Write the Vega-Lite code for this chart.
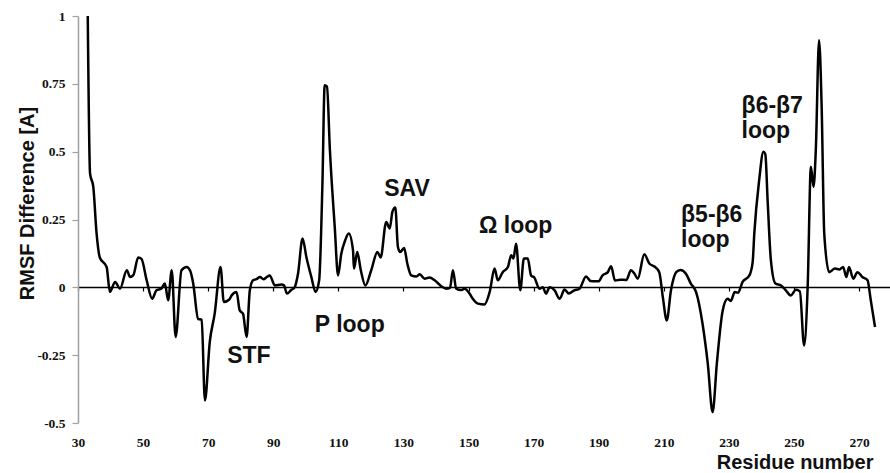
{
  "$schema": "https://vega.github.io/schema/vega-lite/v6.json",
  "width": 812,
  "height": 407,
  "autosize": {"type": "none"},
  "padding": {"left": 78, "top": 16, "right": 0, "bottom": 50},
  "background": "white",
  "config": {"view": {"stroke": null}},
  "layer": [
    {
      "data": {"values": [
        {"residue": 33, "rmsf": 1.0}, {"residue": 33.7, "rmsf": 0.42}, {"residue": 34.7, "rmsf": 0.37}, {"residue": 35.7, "rmsf": 0.2},
        {"residue": 36.7, "rmsf": 0.11}, {"residue": 38.8, "rmsf": 0.075}, {"residue": 39.8, "rmsf": -0.017}, {"residue": 41.4, "rmsf": 0.02},
        {"residue": 42.9, "rmsf": -0.005}, {"residue": 45, "rmsf": 0.063}, {"residue": 46, "rmsf": 0.038}, {"residue": 47, "rmsf": 0.045},
        {"residue": 48.5, "rmsf": 0.11}, {"residue": 49.5, "rmsf": 0.105}, {"residue": 51.1, "rmsf": 0.026}, {"residue": 52.8, "rmsf": -0.042},
        {"residue": 54.1, "rmsf": -0.011}, {"residue": 55.6, "rmsf": -0.005}, {"residue": 56.7, "rmsf": 0.014}, {"residue": 57.7, "rmsf": -0.048},
        {"residue": 58.8, "rmsf": 0.063}, {"residue": 60, "rmsf": -0.183}, {"residue": 61.8, "rmsf": 0.063}, {"residue": 63.4, "rmsf": 0.075},
        {"residue": 64.5, "rmsf": 0.06}, {"residue": 65.4, "rmsf": 0.014}, {"residue": 66.9, "rmsf": -0.116}, {"residue": 68, "rmsf": -0.12},
        {"residue": 69, "rmsf": -0.417}, {"residue": 70.5, "rmsf": -0.2}, {"residue": 72, "rmsf": -0.097}, {"residue": 73.8, "rmsf": 0.075},
        {"residue": 74.8, "rmsf": -0.054}, {"residue": 76.5, "rmsf": -0.045}, {"residue": 77.2, "rmsf": -0.03}, {"residue": 78.7, "rmsf": -0.017},
        {"residue": 79.7, "rmsf": -0.085}, {"residue": 80.7, "rmsf": -0.097}, {"residue": 81.8, "rmsf": -0.183}, {"residue": 82.8, "rmsf": -0.011},
        {"residue": 83.8, "rmsf": 0.026}, {"residue": 84.8, "rmsf": 0.03}, {"residue": 85.9, "rmsf": 0.038}, {"residue": 87, "rmsf": 0.03},
        {"residue": 88, "rmsf": 0.038}, {"residue": 88.9, "rmsf": 0.044}, {"residue": 90.5, "rmsf": 0.007}, {"residue": 92.5, "rmsf": 0.01},
        {"residue": 93.3, "rmsf": 0.007}, {"residue": 94.2, "rmsf": -0.023}, {"residue": 95.5, "rmsf": -0.01}, {"residue": 96.6, "rmsf": 0.001},
        {"residue": 97.6, "rmsf": 0.05}, {"residue": 99, "rmsf": 0.18}, {"residue": 100.2, "rmsf": 0.11}, {"residue": 101.7, "rmsf": 0.038},
        {"residue": 103, "rmsf": -0.017}, {"residue": 104.1, "rmsf": 0.026}, {"residue": 105.1, "rmsf": 0.38}, {"residue": 105.8, "rmsf": 0.745},
        {"residue": 106.5, "rmsf": 0.74}, {"residue": 107.4, "rmsf": 0.506}, {"residue": 108.9, "rmsf": 0.22}, {"residue": 109.9, "rmsf": 0.044},
        {"residue": 110.9, "rmsf": 0.124}, {"residue": 112, "rmsf": 0.17}, {"residue": 113.2, "rmsf": 0.198}, {"residue": 114.5, "rmsf": 0.136},
        {"residue": 114.8, "rmsf": 0.069}, {"residue": 115.8, "rmsf": 0.13}, {"residue": 116.9, "rmsf": 0.063}, {"residue": 118.3, "rmsf": 0.007},
        {"residue": 120.1, "rmsf": 0.063}, {"residue": 122, "rmsf": 0.13}, {"residue": 123, "rmsf": 0.11}, {"residue": 124.7, "rmsf": 0.241},
        {"residue": 125.8, "rmsf": 0.217}, {"residue": 126.6, "rmsf": 0.278}, {"residue": 127.5, "rmsf": 0.294}, {"residue": 128.3, "rmsf": 0.149},
        {"residue": 129, "rmsf": 0.13}, {"residue": 130.2, "rmsf": 0.145}, {"residue": 131.2, "rmsf": 0.087}, {"residue": 132.4, "rmsf": 0.044},
        {"residue": 134, "rmsf": 0.04}, {"residue": 135, "rmsf": 0.048}, {"residue": 136.5, "rmsf": 0.032}, {"residue": 138, "rmsf": 0.036},
        {"residue": 139.6, "rmsf": 0.026}, {"residue": 141.6, "rmsf": 0.004}, {"residue": 143.2, "rmsf": -0.005}, {"residue": 144.3, "rmsf": -0.002},
        {"residue": 145.2, "rmsf": 0.063}, {"residue": 146.2, "rmsf": -0.005}, {"residue": 147.7, "rmsf": -0.01}, {"residue": 148.8, "rmsf": -0.005},
        {"residue": 150.3, "rmsf": -0.023}, {"residue": 151.3, "rmsf": -0.042}, {"residue": 152.9, "rmsf": -0.06}, {"residue": 154.9, "rmsf": -0.063},
        {"residue": 156.5, "rmsf": -0.017}, {"residue": 158, "rmsf": 0.069}, {"residue": 159, "rmsf": 0.026}, {"residue": 160.5, "rmsf": 0.056},
        {"residue": 162.1, "rmsf": 0.075}, {"residue": 163.1, "rmsf": 0.118}, {"residue": 163.8, "rmsf": 0.106}, {"residue": 164.6, "rmsf": 0.161},
        {"residue": 165.9, "rmsf": -0.011}, {"residue": 167, "rmsf": 0.106}, {"residue": 168.2, "rmsf": 0.106}, {"residue": 169.2, "rmsf": 0.044},
        {"residue": 170.2, "rmsf": 0.036}, {"residue": 171.8, "rmsf": -0.005}, {"residue": 172.8, "rmsf": 0.0}, {"residue": 173.8, "rmsf": -0.023},
        {"residue": 174.9, "rmsf": 0.0}, {"residue": 176.4, "rmsf": -0.01}, {"residue": 178, "rmsf": -0.042}, {"residue": 179.5, "rmsf": -0.008},
        {"residue": 180.8, "rmsf": -0.023}, {"residue": 182.5, "rmsf": -0.011}, {"residue": 184.1, "rmsf": -0.005}, {"residue": 186.1, "rmsf": 0.04},
        {"residue": 187.5, "rmsf": 0.023}, {"residue": 188.7, "rmsf": 0.022}, {"residue": 189.9, "rmsf": 0.022}, {"residue": 191.2, "rmsf": 0.044},
        {"residue": 192.8, "rmsf": 0.056}, {"residue": 193.8, "rmsf": 0.078}, {"residue": 195, "rmsf": 0.025}, {"residue": 196.7, "rmsf": 0.028},
        {"residue": 198.5, "rmsf": 0.027}, {"residue": 199.9, "rmsf": 0.063}, {"residue": 201, "rmsf": 0.05}, {"residue": 202, "rmsf": 0.032},
        {"residue": 204, "rmsf": 0.122}, {"residue": 205.6, "rmsf": 0.087}, {"residue": 207.1, "rmsf": 0.077}, {"residue": 208.6, "rmsf": 0.056},
        {"residue": 209.7, "rmsf": -0.036}, {"residue": 210.9, "rmsf": -0.122}, {"residue": 212.2, "rmsf": -0.011}, {"residue": 213.8, "rmsf": 0.056},
        {"residue": 215.1, "rmsf": 0.064}, {"residue": 216.8, "rmsf": 0.05}, {"residue": 218.3, "rmsf": 0.014}, {"residue": 219.9, "rmsf": -0.017},
        {"residue": 221.9, "rmsf": -0.134}, {"residue": 223.5, "rmsf": -0.28}, {"residue": 225, "rmsf": -0.46}, {"residue": 226.3, "rmsf": -0.28},
        {"residue": 228.1, "rmsf": -0.085}, {"residue": 229.6, "rmsf": -0.042}, {"residue": 230.6, "rmsf": -0.05}, {"residue": 231.8, "rmsf": -0.017},
        {"residue": 232.8, "rmsf": -0.02}, {"residue": 234.2, "rmsf": 0.02}, {"residue": 236.3, "rmsf": 0.044}, {"residue": 237.3, "rmsf": 0.093},
        {"residue": 237.8, "rmsf": 0.198}, {"residue": 239.3, "rmsf": 0.395}, {"residue": 240.6, "rmsf": 0.5}, {"residue": 241.2, "rmsf": 0.49},
        {"residue": 241.9, "rmsf": 0.32}, {"residue": 242.9, "rmsf": 0.1}, {"residue": 244.3, "rmsf": 0.014}, {"residue": 246, "rmsf": 0.007},
        {"residue": 247.5, "rmsf": -0.011}, {"residue": 249, "rmsf": -0.03}, {"residue": 250.6, "rmsf": -0.009}, {"residue": 251.8, "rmsf": -0.015},
        {"residue": 253.1, "rmsf": -0.214}, {"residue": 254.2, "rmsf": 0.001}, {"residue": 255.2, "rmsf": 0.444}, {"residue": 256, "rmsf": 0.37},
        {"residue": 256.7, "rmsf": 0.505}, {"residue": 257.7, "rmsf": 0.911}, {"residue": 258.5, "rmsf": 0.665}, {"residue": 259.3, "rmsf": 0.198},
        {"residue": 260.8, "rmsf": 0.056}, {"residue": 262.6, "rmsf": 0.069}, {"residue": 264, "rmsf": 0.066}, {"residue": 265.1, "rmsf": 0.075},
        {"residue": 266.1, "rmsf": 0.038}, {"residue": 266.9, "rmsf": 0.075}, {"residue": 268.2, "rmsf": 0.032}, {"residue": 269.5, "rmsf": 0.056},
        {"residue": 271, "rmsf": 0.038}, {"residue": 272.6, "rmsf": 0.026}, {"residue": 273.6, "rmsf": -0.048}, {"residue": 274.9, "rmsf": -0.146}
      ]},
      "mark": {"type": "line", "color": "black", "strokeWidth": 2.5, "interpolate": "monotone", "clip": true},
      "encoding": {
        "x": {
          "field": "residue", "type": "quantitative",
          "scale": {"domain": [30, 279.5], "nice": false, "zero": false},
          "axis": {
            "values": [30, 50, 70, 90, 110, 130, 150, 170, 190, 210, 230, 250, 270],
            "offset": -136, "grid": false,
            "domainColor": "black", "domainWidth": 1.5,
            "tickColor": "black", "tickSize": 4, "tickWidth": 1.2,
            "labelPadding": 144, "labelFlush": false,
            "labelFont": "Liberation Serif", "labelFontWeight": "bold", "labelFontSize": 13.5, "labelColor": "#111",
            "title": "Residue number",
            "titleFont": "Liberation Sans", "titleFontSize": 20, "titleFontWeight": "bold", "titleColor": "#111",
            "titleAnchor": "end", "titleAlign": "right", "titleX": 795, "titleY": 181, "titleBaseline": "alphabetic"
          }
        },
        "y": {
          "field": "rmsf", "type": "quantitative",
          "scale": {"domain": [-0.5, 1], "nice": false, "zero": false},
          "axis": {
            "values": [-0.5, -0.25, 0, 0.25, 0.5, 0.75, 1],
            "labelExpr": "datum.value + ''",
            "grid": false,
            "domainColor": "#a0a0a0", "domainWidth": 1.5,
            "tickColor": "#a0a0a0", "tickSize": 6, "tickWidth": 1.2,
            "labelPadding": 7,
            "labelFont": "Liberation Serif", "labelFontWeight": "bold", "labelFontSize": 13.5, "labelColor": "#111",
            "title": "RMSF Difference [A]",
            "titleFont": "Liberation Sans", "titleFontSize": 20, "titleFontWeight": "bold", "titleColor": "#111",
            "titleAlign": "center", "titleBaseline": "alphabetic", "titleX": -45, "titleY": 187
          }
        }
      }
    },
    {
      "data": {"values": [
        {"label": "STF", "residue": 82.5, "rmsf": -0.278},
        {"label": "P loop", "residue": 113.5, "rmsf": -0.164},
        {"label": "SAV", "residue": 131.1, "rmsf": 0.338},
        {"label": "Ω loop", "residue": 164.5, "rmsf": 0.199}
      ]},
      "mark": {"type": "text", "font": "Liberation Sans", "fontWeight": "bold", "fontSize": 23, "color": "#111", "align": "center", "baseline": "alphabetic"},
      "encoding": {
        "x": {"field": "residue", "type": "quantitative"},
        "y": {"field": "rmsf", "type": "quantitative"},
        "text": {"field": "label"}
      }
    },
    {
      "data": {"values": [
        {"label": ["β5-β6", "loop"], "residue": 215.3, "rmsf": 0.241},
        {"label": ["β6-β7", "loop"], "residue": 233.9, "rmsf": 0.641}
      ]},
      "mark": {"type": "text", "font": "Liberation Sans", "fontWeight": "bold", "fontSize": 23, "color": "#111", "align": "left", "baseline": "alphabetic", "lineHeight": 25},
      "encoding": {
        "x": {"field": "residue", "type": "quantitative"},
        "y": {"field": "rmsf", "type": "quantitative"},
        "text": {"field": "label"}
      }
    }
  ]
}
